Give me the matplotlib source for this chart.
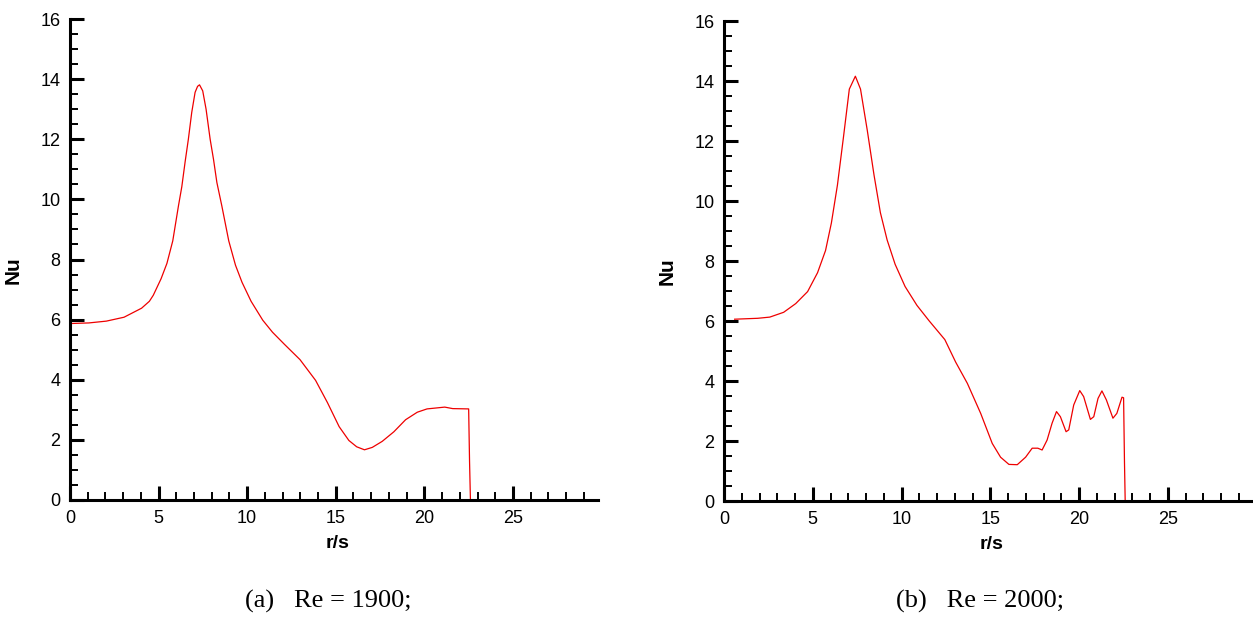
import matplotlib.pyplot as plt
from matplotlib.ticker import MultipleLocator

# ---- data ----
r_1900 = [0.0, 1.06, 2.05, 3.05, 4.04, 4.48, 4.7, 5.14, 5.47, 5.8, 6.12, 6.31, 6.5,
          6.68, 6.87, 7.06, 7.2, 7.31, 7.49, 7.68, 7.91, 8.1, 8.29, 8.57, 8.96, 9.34,
          9.71, 10.22, 10.88, 11.43, 12.1, 12.98, 13.86, 14.53, 15.19, 15.74, 16.18,
          16.62, 17.06, 17.62, 18.28, 18.94, 19.6, 20.15, 21.15, 21.6, 22.5, 22.55,
          22.6]
nu_1900 = [5.87, 5.89, 5.95, 6.08, 6.38, 6.61, 6.81, 7.36, 7.87, 8.62, 9.78, 10.42, 11.26,
           12.0, 12.89, 13.56, 13.76, 13.81, 13.61, 13.0, 12.0, 11.33, 10.56, 9.78, 8.62,
           7.81, 7.24, 6.61, 5.98, 5.58, 5.18, 4.67, 3.98, 3.24, 2.44, 1.98, 1.77,
           1.67, 1.75, 1.95, 2.27, 2.67, 2.92, 3.03, 3.09, 3.04, 3.03, 1.29,
           0.0]

r_2000 = [0.6, 1.9, 2.58, 3.36, 4.04, 4.71, 5.27, 5.72, 6.05, 6.39, 6.73, 7.06, 7.4,
          7.69, 8.07, 8.45, 8.81, 9.19, 9.64, 10.2, 10.87, 11.55, 12.44, 13.05, 13.71,
          14.46, 15.11, 15.58, 16.05, 16.52, 16.99, 17.36, 17.68, 17.92, 18.2, 18.48,
          18.73, 18.95, 19.27, 19.42, 19.7, 20.04, 20.26, 20.64, 20.83, 21.07, 21.29,
          21.54, 21.91, 22.13, 22.42, 22.51, 22.56, 22.6]
nu_2000 = [6.06, 6.09, 6.13, 6.29, 6.58, 6.98, 7.61, 8.35, 9.27, 10.53, 12.13, 13.73, 14.16,
           13.73, 12.36, 10.87, 9.61, 8.7, 7.89, 7.15, 6.52, 6.01, 5.38, 4.63, 3.92,
           2.92, 1.92, 1.46, 1.22, 1.21, 1.46, 1.76, 1.76, 1.70, 2.03, 2.59,
           2.98, 2.81, 2.31, 2.37, 3.2, 3.68, 3.48, 2.72, 2.81, 3.42, 3.67,
           3.37, 2.76, 2.92, 3.46, 3.44, 1.3, 0.0]

captions = ["(a)   Re = 1900;", "(b)   Re = 2000;"]

W, H = 1253, 617
fig = plt.figure(figsize=(W / 100, H / 100), dpi=100)

# axes boxes in pixels: left, top, right, bottom
boxes = [(70, 19, 598, 500), (724, 21, 1253, 501)]
caption_x = [328, 980]


def style_axis(ax):
    for side in ["top", "right"]:
        ax.spines[side].set_visible(False)
    for side in ["left", "bottom"]:
        ax.spines[side].set_linewidth(2.2)
    ax.set_xlim(0, 29.8)
    ax.set_ylim(0, 16)
    ax.xaxis.set_major_locator(MultipleLocator(5))
    ax.xaxis.set_minor_locator(MultipleLocator(1))
    ax.yaxis.set_major_locator(MultipleLocator(2))
    ax.yaxis.set_minor_locator(MultipleLocator(0.5))
    ax.tick_params(which="major", direction="in", length=10, width=2.2, labelsize=13, pad=7)
    ax.tick_params(which="minor", direction="in", length=6, width=1.4)
    for lab in ax.get_xticklabels() + ax.get_yticklabels():
        lab.set_family("Liberation Sans")
    ax.set_xlabel("r/s", fontsize=14, fontweight="bold", family="Liberation Sans")
    ax.set_ylabel("Nu", fontsize=15, fontweight="bold", family="Liberation Sans")


series = [(r_1900, nu_1900), (r_2000, nu_2000)]
for i, ((x0, y0, x1, y1), (r, nu)) in enumerate(zip(boxes, series)):
    ax = fig.add_axes([x0 / W, 1 - y1 / H, (x1 - x0) / W, (y1 - y0) / H])
    ax.plot(r, nu, color="#ee0000", linewidth=0.9)
    style_axis(ax)
    ax.xaxis.set_label_coords(0.506, -0.072)
    ax.yaxis.set_label_coords(-0.09, 0.478)
    ax.patch.set_alpha(0)
    fig.text(caption_x[i] / W, 1 - 601 / H, captions[i], ha="center", va="center",
             fontsize=19, family="Liberation Serif")

fig.savefig("out.png", dpi=100)
